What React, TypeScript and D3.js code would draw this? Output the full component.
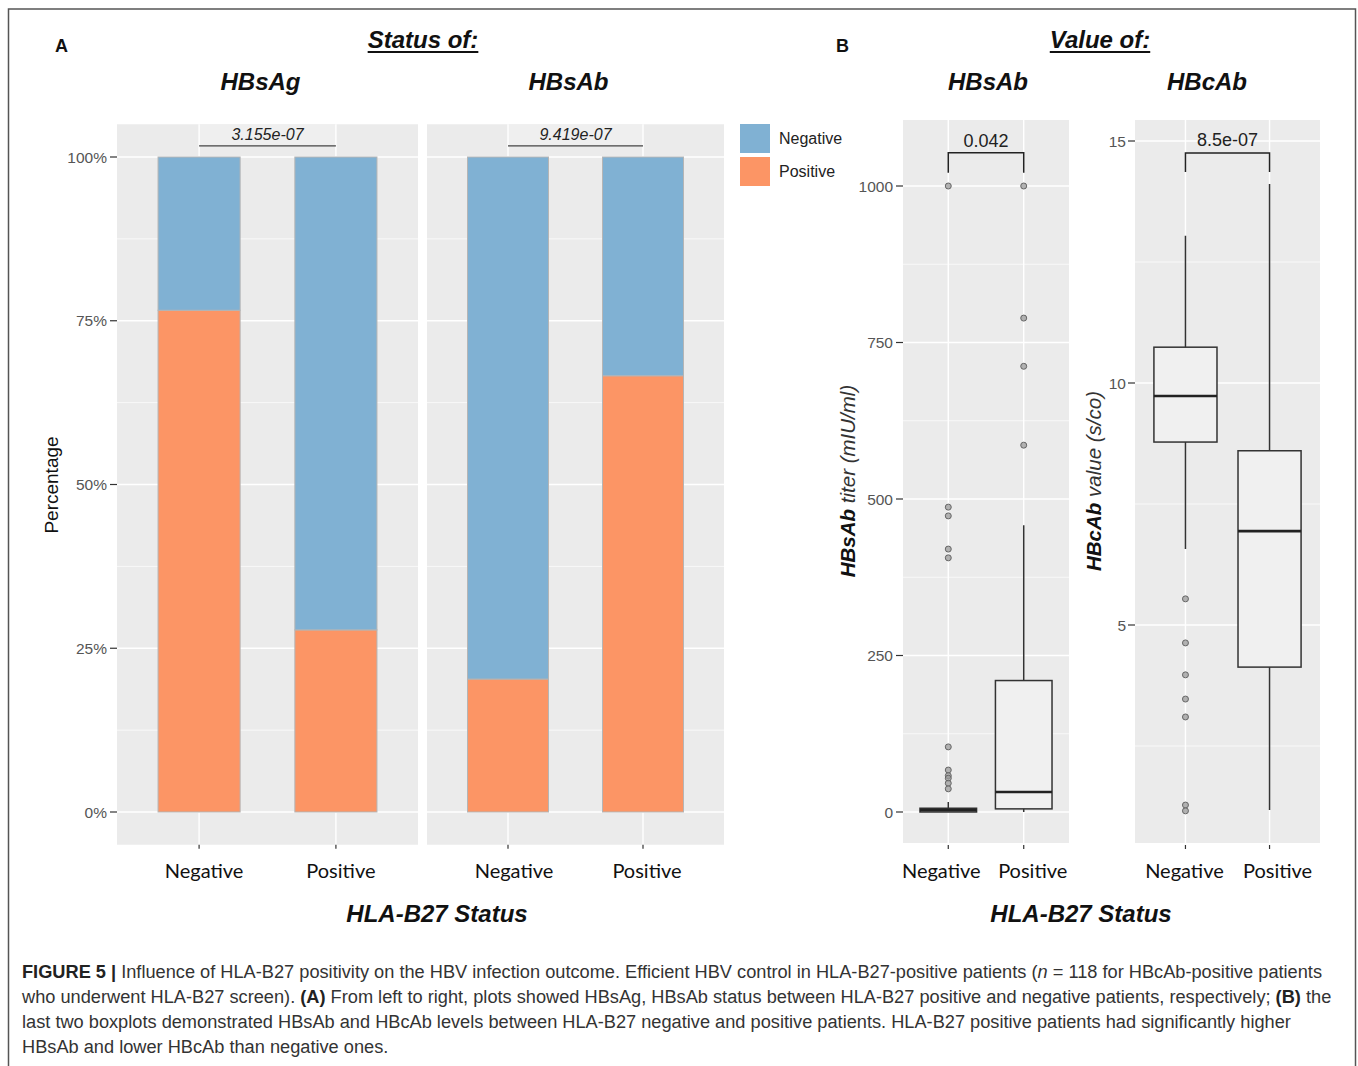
import React, { useRef, useEffect } from "react";
import * as d3 from "d3";

const groups = ["Negative", "Positive"];

// Panel A: share of negative / positive results per HLA-B27 status (%)
const hbsagNegative = [23.4, 72.2];
const hbsagPositive = [76.6, 27.8];
const hbsabNegative = [79.7, 33.4];
const hbsabPositive = [20.3, 66.6];
const pctTicks = [0, 25, 50, 75, 100];
const pctMinor = [12.5, 37.5, 62.5, 87.5];
const barTitles = ["HBsAg", "HBsAb"];
const barPValues = ["3.155e-07", "9.419e-07"];

// Panel B: boxplot stats per group -> [lower whisker, q1, median, q3, upper whisker]
const titerBoxes = [
  [0, 0, 3, 6, 16],
  [0, 5, 32, 210, 458],
];
const titerOutliers = [
  [1000, 487, 473, 420, 406, 104, 67, 58, 54, 46, 37],
  [1000, 789, 712, 586],
];
const titerTicks = [0, 250, 500, 750, 1000];
const titerMinor = [125, 375, 625, 875];

const hbcabBoxes = [
  [6.57, 8.78, 9.73, 10.74, 13.04],
  [1.18, 4.13, 6.94, 8.6, 14.11],
];
const hbcabOutliers = [[5.54, 4.63, 3.97, 3.47, 3.1, 1.28, 1.16], []];
const hbcabTicks = [5, 10, 15];
const hbcabMinor = [2.5, 7.5, 12.5];

const boxTitles = ["HBsAb", "HBcAb"];
const boxPValues = ["0.042", "8.5e-07"];

const caption = [
  [
    ["FIGURE 5 | ", "b"],
    ["Influence of HLA-B27 positivity on the HBV infection outcome. Efficient HBV control in HLA-B27-positive patients (", ""],
    ["n", "i"],
    [" = 118 for HBcAb-positive patients", ""],
  ],
  [
    ["who underwent HLA-B27 screen). ", ""],
    ["(A)", "b"],
    [" From left to right, plots showed HBsAg, HBsAb status between HLA-B27 positive and negative patients, respectively; ", ""],
    ["(B)", "b"],
    [" the", ""],
  ],
  [["last two boxplots demonstrated HBsAb and HBcAb levels between HLA-B27 negative and positive patients. HLA-B27 positive patients had significantly higher", ""]],
  [["HBsAb and lower HBcAb than negative ones.", ""]],
];

const BLUE = "#80b1d3";
const ORANGE = "#fc9565";
const PANEL = "#ebebeb";
const SANS = "'Liberation Sans', Arial, sans-serif";
const LABEL = "Lato, 'Open Sans', sans-serif";

const App = () => {
  const svgRef = useRef(null);

  useEffect(() => {
    const svg = d3.select(svgRef.current);
    svg.selectAll("*").remove();

    svg
      .append("rect")
      .attr("x", 8.5)
      .attr("y", 9)
      .attr("width", 1347)
      .attr("height", 1100)
      .attr("fill", "white")
      .attr("stroke", "#555")
      .attr("stroke-width", 1.5);

    const text = (x, y, s, size, opts: any = {}) =>
      svg
        .append("text")
        .attr("x", x)
        .attr("y", y)
        .attr("font-family", opts.family || SANS)
        .attr("font-size", size)
        .attr("font-weight", opts.weight || "normal")
        .attr("font-style", opts.style || "normal")
        .attr("fill", opts.fill || "#111")
        .attr("text-anchor", opts.anchor || "middle")
        .text(s);

    // ---------- Panel A: stacked bars ----------
    const yPct = d3.scaleLinear().domain([0, 100]).range([812, 157]);
    const barPanels = [
      { x0: 117, x1: 418, neg: hbsagNegative, pos: hbsagPositive, dx: [5, 5] },
      { x0: 427, x1: 724, neg: hbsabNegative, pos: hbsabPositive, dx: [6, 4] },
    ];

    barPanels.forEach((p, k) => {
      const x = d3.scalePoint().domain(groups).range([p.x0, p.x1]).padding(0.6);
      const step = x.step();
      const g = svg.append("g");
      g.append("rect")
        .attr("x", p.x0)
        .attr("y", yPct(105))
        .attr("width", p.x1 - p.x0)
        .attr("height", yPct(-5) - yPct(105))
        .attr("fill", PANEL);
      g.append("rect")
        .attr("x", x(groups[0]))
        .attr("y", yPct(105))
        .attr("width", x(groups[1]) - x(groups[0]))
        .attr("height", yPct(101.7) - yPct(105))
        .attr("fill", "#efefef");
      g.selectAll(".minor")
        .data(pctMinor)
        .join("line")
        .attr("x1", p.x0)
        .attr("x2", p.x1)
        .attr("y1", (d) => yPct(d))
        .attr("y2", (d) => yPct(d))
        .attr("stroke", "white")
        .attr("stroke-width", 0.7);
      g.selectAll(".major")
        .data(pctTicks)
        .join("line")
        .attr("x1", p.x0)
        .attr("x2", p.x1)
        .attr("y1", (d) => yPct(d))
        .attr("y2", (d) => yPct(d))
        .attr("stroke", "white")
        .attr("stroke-width", 1.4);
      groups.forEach((grp) => {
        g.append("line")
          .attr("x1", x(grp))
          .attr("x2", x(grp))
          .attr("y1", yPct(105))
          .attr("y2", yPct(-5))
          .attr("stroke", "white")
          .attr("stroke-width", 1.4);
      });

      const bw = step * 0.6;
      groups.forEach((grp, i) => {
        g.append("rect")
          .attr("x", x(grp) - bw / 2)
          .attr("y", yPct(p.pos[i]))
          .attr("width", bw)
          .attr("height", yPct(0) - yPct(p.pos[i]))
          .attr("fill", ORANGE)
          .attr("stroke", "#b5b5b5")
          .attr("stroke-width", 1);
        g.append("rect")
          .attr("x", x(grp) - bw / 2)
          .attr("y", yPct(100))
          .attr("width", bw)
          .attr("height", yPct(100 - p.neg[i]) - yPct(100))
          .attr("fill", BLUE)
          .attr("stroke", "#b5b5b5")
          .attr("stroke-width", 1);
      });

      // p-value line
      g.append("line")
        .attr("x1", x(groups[0]))
        .attr("x2", x(groups[1]))
        .attr("y1", yPct(101.7))
        .attr("y2", yPct(101.7))
        .attr("stroke", "#444")
        .attr("stroke-width", 1.3);
      text((x(groups[0]) + x(groups[1])) / 2, yPct(102.6), barPValues[k], 16, {
        style: "italic",
        fill: "#222",
      });

      // x ticks + labels
      groups.forEach((grp, i) => {
        g.append("line")
          .attr("x1", x(grp))
          .attr("x2", x(grp))
          .attr("y1", yPct(-5))
          .attr("y2", yPct(-5) + 4)
          .attr("stroke", "#333")
          .attr("stroke-width", 1.2);
        text(x(grp) + p.dx[i], 878, grp, 20, { family: LABEL, fill: "#111" });
      });

      text((p.x0 + p.x1) / 2 - 7, 90, barTitles[k], 24, {
        weight: "bold",
        style: "italic",
      });
    });

    // y axis of panel A
    pctTicks.forEach((t) => {
      svg
        .append("line")
        .attr("x1", 110)
        .attr("x2", 117)
        .attr("y1", yPct(t))
        .attr("y2", yPct(t))
        .attr("stroke", "#333")
        .attr("stroke-width", 1.2);
      text(107, yPct(t) + 5.5, `${t}%`, 15.5, { anchor: "end", fill: "#555" });
    });
    text(0, 0, "Percentage", 19, { fill: "#111" }).attr(
      "transform",
      "translate(58,485) rotate(-90)"
    );

    // legend
    [
      ["Negative", BLUE, 124],
      ["Positive", ORANGE, 157],
    ].forEach(([lab, col, y0]: any) => {
      svg.append("rect").attr("x", 740).attr("y", y0).attr("width", 30).attr("height", 29).attr("fill", col);
      text(779, y0 + 20, lab, 16, { anchor: "start", fill: "#222" });
    });

    // ---------- Panel B: boxplots ----------
    const boxPanels = [
      {
        x0: 903,
        x1: 1069,
        y: d3.scaleLinear().domain([0, 1000]).range([812, 186]),
        ticks: titerTicks,
        minor: titerMinor,
        boxes: titerBoxes,
        outliers: titerOutliers,
        bracket: [1053, 1021, 1062],
        tickX: 893,
        dx: [-7, 9],
        titleX: 988,
      },
      {
        x0: 1135,
        x1: 1320,
        y: d3.scaleLinear().domain([5, 15]).range([625, 141]),
        ticks: hbcabTicks,
        minor: hbcabMinor,
        boxes: hbcabBoxes,
        outliers: hbcabOutliers,
        bracket: [14.75, 14.36, 14.9],
        tickX: 1126,
        dx: [-1, 8],
        titleX: 1207,
      },
    ];

    boxPanels.forEach((p, k) => {
      const x = d3.scalePoint().domain(groups).range([p.x0, p.x1]).padding(0.6);
      const bw = x.step() * 0.75;
      const top = 120;
      const bot = 843;
      const g = svg.append("g");
      g.append("rect")
        .attr("x", p.x0)
        .attr("y", top)
        .attr("width", p.x1 - p.x0)
        .attr("height", bot - top)
        .attr("fill", PANEL);
      p.minor.forEach((t) => {
        g.append("line")
          .attr("x1", p.x0)
          .attr("x2", p.x1)
          .attr("y1", p.y(t))
          .attr("y2", p.y(t))
          .attr("stroke", "white")
          .attr("stroke-width", 0.7);
      });
      p.ticks.forEach((t) => {
        g.append("line")
          .attr("x1", p.x0)
          .attr("x2", p.x1)
          .attr("y1", p.y(t))
          .attr("y2", p.y(t))
          .attr("stroke", "white")
          .attr("stroke-width", 1.4);
        g.append("line")
          .attr("x1", p.x0 - 7)
          .attr("x2", p.x0)
          .attr("y1", p.y(t))
          .attr("y2", p.y(t))
          .attr("stroke", "#333")
          .attr("stroke-width", 1.2);
        text(p.tickX, p.y(t) + 5.5, String(t), 15.5, { anchor: "end", fill: "#555" });
      });
      groups.forEach((grp) => {
        g.append("line")
          .attr("x1", x(grp))
          .attr("x2", x(grp))
          .attr("y1", top)
          .attr("y2", bot)
          .attr("stroke", "white")
          .attr("stroke-width", 1.4);
      });

      p.boxes.forEach(([lo, q1, med, q3, hi], i) => {
        const cx = x(groups[i]);
        g.append("line")
          .attr("x1", cx)
          .attr("x2", cx)
          .attr("y1", p.y(hi))
          .attr("y2", p.y(lo))
          .attr("stroke", "#333")
          .attr("stroke-width", 1.5);
        g.append("rect")
          .attr("x", cx - bw / 2)
          .attr("y", p.y(q3))
          .attr("width", bw)
          .attr("height", Math.max(p.y(q1) - p.y(q3), 0.5))
          .attr("fill", "#f0f0f0")
          .attr("stroke", "#333")
          .attr("stroke-width", 1.5);
        g.append("line")
          .attr("x1", cx - bw / 2)
          .attr("x2", cx + bw / 2)
          .attr("y1", p.y(med))
          .attr("y2", p.y(med))
          .attr("stroke", "#222")
          .attr("stroke-width", 2.6);
        g.selectAll(null)
          .data(p.outliers[i])
          .join("circle")
          .attr("cx", cx)
          .attr("cy", (d) => p.y(d))
          .attr("r", 3)
          .attr("fill", "#999")
          .attr("fill-opacity", 0.75)
          .attr("stroke", "#666")
          .attr("stroke-width", 1);
      });

      // significance bracket
      const [yb, yd, yt] = p.bracket;
      const xa = x(groups[0]);
      const xb = x(groups[1]);
      g.append("path")
        .attr("d", `M${xa},${p.y(yd)}V${p.y(yb)}H${xb}V${p.y(yd)}`)
        .attr("fill", "none")
        .attr("stroke", "#222")
        .attr("stroke-width", 1.5);
      text((xa + xb) / 2, p.y(yt), boxPValues[k], 18, { fill: "#222" });

      groups.forEach((grp, i) => {
        g.append("line")
          .attr("x1", x(grp))
          .attr("x2", x(grp))
          .attr("y1", bot + 2)
          .attr("y2", bot + 6)
          .attr("stroke", "#333")
          .attr("stroke-width", 1.2);
        text(x(grp) + p.dx[i], 878, grp, 20, { family: LABEL, fill: "#111" });
      });

      text(p.titleX, 90, boxTitles[k], 24, { weight: "bold", style: "italic" });
    });

    // y titles of panel B
    const yTitle = (cx, cy, bold, rest) => {
      const t = svg
        .append("text")
        .attr("transform", `translate(${cx},${cy}) rotate(-90)`)
        .attr("text-anchor", "middle")
        .attr("font-family", SANS)
        .attr("font-size", 20.5)
        .attr("font-style", "italic")
        .attr("fill", "#111");
      t.append("tspan").attr("font-weight", "bold").text(bold);
      t.append("tspan").attr("font-weight", "300").attr("fill", "#333").text(rest);
    };
    yTitle(855, 481, "HBsAb", " titer (mIU/ml)");
    yTitle(1101, 481, "HBcAb", " value (s/co)");

    // headings
    const heading = (cx, s) => {
      const t = text(cx, 48, s, 24, { weight: "bold", style: "italic" });
      const w = (t.node() as SVGTextElement).getComputedTextLength();
      svg
        .append("line")
        .attr("x1", cx - w / 2)
        .attr("x2", cx + w / 2)
        .attr("y1", 52)
        .attr("y2", 52)
        .attr("stroke", "#111")
        .attr("stroke-width", 2);
    };
    heading(423, "Status of:");
    heading(1100, "Value of:");
    text(55, 52, "A", 18, { weight: "bold", anchor: "start" });
    text(836, 52, "B", 18, { weight: "bold", anchor: "start" });
    text(437, 922, "HLA-B27 Status", 24, { weight: "bold", style: "italic" });
    text(1081, 922, "HLA-B27 Status", 24, { weight: "bold", style: "italic" });

    // caption: size the font so the first line spans the same width as the reference
    const capLines = caption.map((line, i) => {
      const t = svg
        .append("text")
        .attr("x", 22)
        .attr("y", 978 + i * 25)
        .attr("font-family", SANS)
        .attr("font-size", 18)
        .attr("fill", "#333");
      line.forEach(([s, st]) => {
        const sp = t.append("tspan").text(s);
        if (st === "b") sp.attr("font-weight", "bold").attr("fill", "#222");
        if (st === "i") sp.attr("font-style", "italic");
      });
      return t;
    });
    const natural = (capLines[0].node() as SVGTextElement).getComputedTextLength();
    const capSize = natural > 0 ? Math.min(19, (18 * 1301) / natural) : 17;
    capLines.forEach((t) => t.attr("font-size", capSize));
  }, []);

  return (
    <svg
      ref={svgRef}
      width={1358}
      height={1066}
      style={{ position: "absolute", left: 0, top: 0, background: "white" }}
    ></svg>
  );
};

export default App;
